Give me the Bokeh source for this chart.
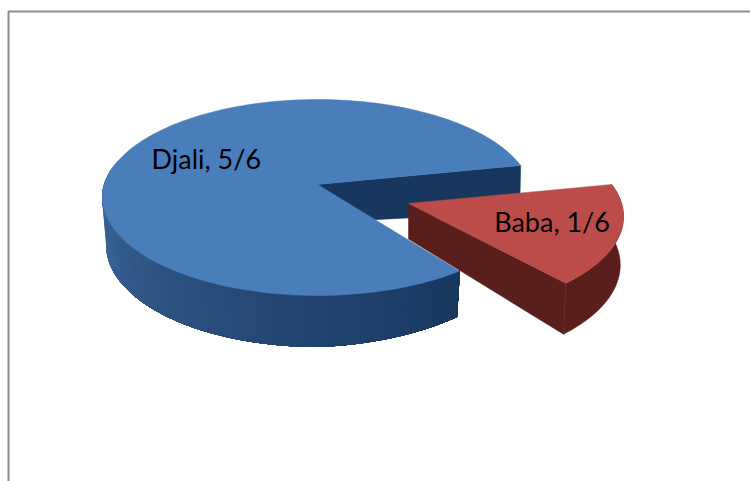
import math
from bokeh.plotting import figure
from bokeh.models import ColumnDataSource
from bokeh.core.properties import value
from bokeh.embed import file_html
from bokeh.resources import INLINE

# data
labels = ["Djali", "Baba"]
share_labels = ["5/6", "1/6"]
shares = [5 / 6, 1 / 6]

# view of the 3-D pie (page pixels)
CX, CY, RX, RY = 317, 197, 215, 98
PERSP = 0.133
START = 11.7        # where the first slice begins, degrees
BLUE_TRIM = 5.2     # the picture's blue slice closes a little short
RED_SHIFT = (91, 19)


def project(theta, r=1.0):
    t = math.radians(theta)
    u, v = r * math.cos(t), r * math.sin(t)
    d = 1 + PERSP * v
    return CX + RX * u * math.sqrt(1 - PERSP ** 2) / d, CY - RY * (v + PERSP) / d, u, v


def blue_pt(theta, r=1.0):
    x, y, u, v = project(theta, r)
    return x, y


def blue_low(theta, r=1.0):
    x, y, u, v = project(theta, r)
    return CX + (x - CX) * 0.98, y + 38 + 10 * r - 3 * v - 8 * max(0.0, u)


def blue_wall_low(theta, r=1.0):
    x, y, u, v = project(theta, r)
    return CX + (x - CX) * 0.995, y + 38 + 9 * r


def red_pt(theta, r=1.0):
    x, y, u, v = project(theta, r)
    return x + RED_SHIFT[0], y + RED_SHIFT[1]


def red_low(theta, r=1.0):
    ax, ay = red_pt(0, 0)
    x, y = red_pt(theta, r)
    v = r * math.sin(math.radians(theta))
    return ax + (x - ax) * 0.985, y + 35.5 + 12.5 * r - 4 * v


def lerp(c1, c2, f):
    f = max(0.0, min(1.0, f))
    return "#%02x%02x%02x" % tuple(round(a + (b - a) * f) for a, b in zip(c1, c2))


def steps(a, b, n):
    return [a + (b - a) * i / n for i in range(n + 1)]


blue_sweep = shares[0] * 360 - BLUE_TRIM
red_sweep = shares[1] * 360
blue_angles = steps(START, START + blue_sweep, 180)
red_angles = steps(START - red_sweep, START, 40)
blue_end = blue_angles[-1]

# painted back to front
xs, ys, fills = [], [], []


def add(points, colour):
    xs.append([q[0] for q in points])
    ys.append([q[1] for q in points])
    fills.append(colour)


# blue: inner wall, outer side (gradient: each band runs on to the slice's end), top
add([blue_pt(0, 0), blue_pt(START), blue_wall_low(START), blue_wall_low(0, 0)], "#17375e")
for a in blue_angles[:-1]:
    if a < 165:
        continue
    f = max(0.0, (a - 170) / (blue_end - 170))
    c = lerp((74, 118, 173), (23, 55, 94), f ** 0.7)
    rest = [q for q in blue_angles if q >= a]
    add([blue_pt(q) for q in rest] + [blue_low(q) for q in reversed(rest)], c)
add([blue_pt(0, 0)] + [blue_pt(a) for a in blue_angles], "#4a7ebb")

# red: outer side, inner wall, top
add([red_pt(a) for a in red_angles] + [red_low(a) for a in reversed(red_angles)], "#5a1f1d")
add([red_pt(0, 0), red_pt(red_angles[0]), red_low(red_angles[0]), red_low(0, 0)], "#5a1f1d")
add([red_pt(0, 0)] + [red_pt(a) for a in red_angles], "#bc4c49")

p = figure(width=750, height=481, x_range=(0, 750), y_range=(481, 0),
           output_backend="svg", toolbar_location=None,
           min_border=0, min_border_left=0, min_border_right=0,
           min_border_top=0, min_border_bottom=0)
p.axis.visible = False
p.grid.visible = False
p.outline_line_color = None
p.background_fill_color = "white"
p.border_fill_color = "white"

# frame of the chart area: its right and bottom edges lie outside the picture
FRAME_LEFT, FRAME_TOP = 8, 11
p.line([FRAME_LEFT, FRAME_LEFT, 750], [481, FRAME_TOP, FRAME_TOP],
       line_color="#8c8c8c", line_width=2)

p.patches("xs", "ys", fill_color="c", line_color="c", line_width=0.5,
          source=ColumnDataSource(dict(xs=xs, ys=ys, c=fills)))

# labels placed along each slice's middle direction
mid_blue = START + blue_sweep / 2
mid_red = START - red_sweep / 2
lx0, ly0 = blue_pt(mid_blue - 3, 0.6)
lx1, ly1 = red_pt(mid_red, 0.68)
text_src = ColumnDataSource(dict(
    x=[lx0, lx1], y=[ly0, ly1],
    t=[f"{n}, {s}" for n, s in zip(labels, share_labels)]))
p.text("x", "y", text="t", source=text_src, text_font=value("Lato"),
       text_font_size="27px", text_color="black",
       text_align="center", text_baseline="middle", x_offset=2, y_offset=-3)

open("out.html", "w").write(file_html(p, INLINE))
